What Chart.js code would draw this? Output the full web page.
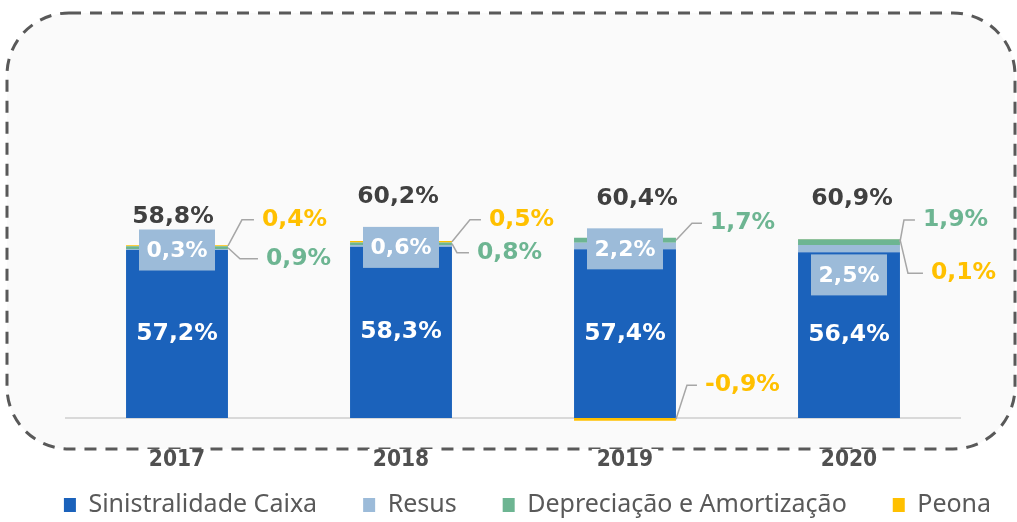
<!DOCTYPE html>
<html><head><meta charset="utf-8">
<script src="https://cdn.jsdelivr.net/npm/chart.js@4.4.1/dist/chart.umd.min.js"></script>
<style>html,body{margin:0;padding:0;background:#fff}#wrap{width:1017px;height:522px}</style>
</head><body><div id="wrap"><canvas id="c" width="1017" height="522"></canvas></div>
<script>
const categories = ['2017', '2018', '2019', '2020'];
const sinistralidade = [57.2, 58.3, 57.4, 56.4];
const resus = [0.3, 0.6, 2.2, 2.5];
const depreciacao = [0.9, 0.8, 1.7, 1.9];
const peona = [0.4, 0.5, -0.9, 0.1];
const seriesNames = ['Sinistralidade Caixa', 'Resus', 'Depreciação e Amortização', 'Peona'];
const seriesColors = ['#1b62bb', '#9cbbd9', '#6db592', '#ffc000'];

const fmt = v => v.toFixed(1).replace('.', ',') + '%';

const frame = {
  id: 'frame',
  beforeDraw(chart) {
    const ctx = chart.ctx;
    ctx.save();
    ctx.beginPath();
    ctx.roundRect(7, 13, 1008, 436, 62);
    ctx.fillStyle = '#fafafa';
    ctx.fill();
    ctx.setLineDash([12, 9]);
    ctx.lineWidth = 3;
    ctx.strokeStyle = '#595959';
    ctx.stroke();
    ctx.restore();
  },
  beforeDatasetsDraw(chart) {
    const ctx = chart.ctx, a = chart.chartArea;
    const y0 = chart.scales.y.getPixelForValue(0);
    ctx.save();
    ctx.strokeStyle = '#d9d9d9';
    ctx.lineWidth = 2;
    ctx.beginPath();
    ctx.moveTo(a.left, y0);
    ctx.lineTo(a.right, y0);
    ctx.stroke();
    ctx.restore();
  }
};

const labels = {
  id: 'labels',
  afterDatasetsDraw(chart, args, opts) {
    const ctx = chart.ctx;
    const metas = chart.data.datasets.map((d, i) => chart.getDatasetMeta(i));
    ctx.save();
    ctx.textBaseline = 'middle';
    categories.forEach((c, i) => {
      const b0 = metas[0].data[i], b1 = metas[1].data[i], b2 = metas[2].data[i], b3 = metas[3].data[i];
      ctx.textAlign = 'center';
      ctx.font = 'bold 23.5px "DejaVu Sans"';
      ctx.fillStyle = '#ffffff';
      ctx.fillText(fmt(sinistralidade[i]), b0.x, (b0.y + b0.base) / 2);
      const by = b1.y + opts.resusDy[i];
      ctx.fillStyle = '#9cbbd9';
      ctx.fillRect(b1.x - 38, by - 20.5, 76, 41);
      ctx.fillStyle = '#ffffff';
      ctx.font = 'bold 22px "DejaVu Sans"';
      ctx.fillText(fmt(resus[i]), b1.x, by + 1);
      const total = sinistralidade[i] + resus[i] + depreciacao[i] + peona[i];
      const top = Math.min(...metas.map(m => Math.min(m.data[i].y, m.data[i].base)));
      ctx.font = 'bold 23.5px "DejaVu Sans"';
      ctx.fillStyle = '#404040';
      ctx.fillText(fmt(total), b0.x + opts.totalDx[i], top + opts.totalDy[i]);
      [[b2, depreciacao[i], opts.depCallout[i], seriesColors[2]],
       [b3, peona[i], opts.peonaCallout[i], seriesColors[3]]].forEach(([el, v, co, col]) => {
        const ax = el.x + el.width / 2;
        const ay = (el.y + el.base) / 2;
        const ty = ay + co.ty;
        ctx.strokeStyle = '#a6a6a6';
        ctx.lineWidth = 1.5;
        ctx.beginPath();
        ctx.moveTo(ax, ay);
        ctx.lineTo(ax + co.ex, ty);
        ctx.lineTo(ax + co.tx - 8, ty);
        ctx.stroke();
        ctx.textAlign = 'left';
        ctx.font = 'bold 23.5px "DejaVu Sans"';
        ctx.fillStyle = col;
        ctx.fillText(fmt(v), ax + co.tx, ty);
      });
    });
    ctx.restore();
  }
};

const seriesValues = [sinistralidade, resus, depreciacao, peona];

new Chart(document.getElementById('c'), {
  type: 'bar',
  data: {
    labels: categories,
    datasets: seriesNames.map((name, k) => ({
      label: name,
      data: seriesValues[k],
      backgroundColor: seriesColors[k],
      borderWidth: 0,
      categoryPercentage: 1,
      barPercentage: 0.455
    }))
  },
  options: {
    responsive: false,
    animation: false,
    layout: { padding: { top: 130, left: 38, right: 0, bottom: -5.5 } },
    scales: {
      x: {
        stacked: true,
        grid: { display: false, drawTicks: false },
        border: { display: false },
        ticks: {
          color: '#505050',
          font: { family: '"DejaVu Sans Condensed", "DejaVu Sans"', size: 22.5, weight: 'bold' },
          padding: 12,
          showLabelBackdrop: true,
          backdropColor: '#ffffff',
          backdropPadding: { top: -2, bottom: 0, left: 5, right: 5 }
        },
        afterFit(s) { s.height = 37.5; }
      },
      y: {
        stacked: true,
        min: -5.79,
        max: 98,
        grid: { display: false },
        border: { display: false },
        ticks: { display: false },
        afterFit(s) { s.width = 27; }
      },
      yR: {
        position: 'right',
        min: 0, max: 1,
        grid: { display: false },
        border: { display: false },
        ticks: { display: false },
        afterFit(s) { s.width = 56; }
      }
    },
    plugins: {
      tooltip: { enabled: false },
      legend: {
        position: 'bottom',
        labels: {
          color: '#595959',
          font: { family: '"Noto Sans"', size: 25 },
          boxWidth: 12,
          boxHeight: 14,
          padding: 20,
          generateLabels(chart) {
            const items = Chart.defaults.plugins.legend.labels.generateLabels(chart);
            items.forEach((it, k) => {
              it.lineWidth = 0;
              if (k < items.length - 1) it.text = it.text + '    ';
            });
            return items;
          }
        }
      },
      labels: {
        resusDy: [1, 2.5, 6, 30],
        totalDx: [-4, -3, 12, 3],
        totalDy: [-28, -44, -39, -40],
        depCallout: [{ex: 12, tx: 38, ty: 11}, {ex: 5, tx: 25, ty: 9}, {ex: 16, tx: 34, ty: -17}, {ex: 4, tx: 23, ty: -22}],
        peonaCallout: [{ex: 14, tx: 34, ty: -26}, {ex: 18, tx: 37, ty: -22}, {ex: 11, tx: 29, ty: -34}, {ex: 8, tx: 31, ty: 34}]
      }
    }
  },
  plugins: [frame, labels]
});
</script>
</body></html>
